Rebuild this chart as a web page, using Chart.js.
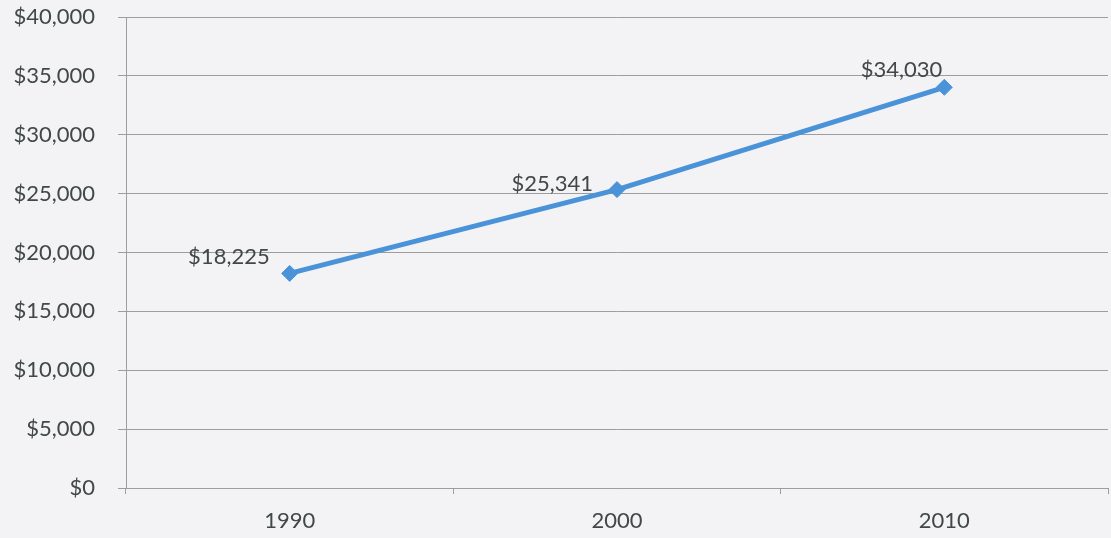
<!DOCTYPE html>
<html>
<head>
<meta charset="utf-8">
<script src="https://cdn.jsdelivr.net/npm/chart.js@4/dist/chart.umd.min.js"></script>
<style>
  body { margin: 0; background: #f3f3f5; }
  #incomeChart { display: block; }
</style>
</head>
<body>
<canvas id="incomeChart" width="1111" height="538"></canvas>
<script>
// median household income by census year
const years = ['1990', '2000', '2010']
const income = [18225, 25341, 34030]

// y axis ticks
const yMin = 0
const yMax = 40000
const yStep = 5000

// where each value label sits relative to its point (right-aligned)
const labelOffsets = [
    { dx: -20, dy: -16 },
    { dx: -24, dy: -6 },
    { dx: -2, dy: -17 }
]

const textColor = '#414846'
const gridColor = '#9d9d9d'
const lineColor = '#4b93d8'

const dollars = (v) => '$' + v.toLocaleString('en-US')

const paintBackground = {
    id: 'paintBackground',
    beforeDraw(chart) {
        const ctx = chart.ctx
        ctx.save()
        ctx.fillStyle = '#f3f3f5'
        ctx.fillRect(0, 0, chart.width, chart.height)
        ctx.restore()
    }
}

const valueLabels = {
    id: 'valueLabels',
    afterDatasetsDraw(chart) {
        const ctx = chart.ctx
        const meta = chart.getDatasetMeta(0)
        ctx.save()
        ctx.font = '22px Lato'
        ctx.fillStyle = textColor
        ctx.textAlign = 'right'
        ctx.textBaseline = 'middle'
        meta.data.forEach((pt, i) => {
            const off = labelOffsets[i]
            ctx.fillText(dollars(income[i]), pt.x + off.dx, pt.y + off.dy)
        })
        ctx.restore()
    }
}

const config = {
    type: 'line',
    data: {
        labels: years,
        datasets: [{
            data: income,
            borderColor: lineColor,
            backgroundColor: lineColor,
            borderWidth: 5,
            pointStyle: 'rectRot',
            pointRadius: 8,
            pointBorderWidth: 1,
            tension: 0
        }]
    },
    options: {
        responsive: false,
        animation: false,
        layout: {
            autoPadding: false,
            padding: { top: 17, right: 3, left: 0, bottom: 0 }
        },
        plugins: {
            legend: { display: false },
            tooltip: { enabled: false }
        },
        scales: {
            x: {
                offset: true,
                grid: {
                    offset: true,
                    drawOnChartArea: false,
                    tickLength: 6,
                    color: gridColor
                },
                border: { color: gridColor },
                ticks: {
                    padding: 14,
                    color: textColor,
                    font: { family: 'Lato', size: 22 }
                },
                afterFit(scale) {
                    scale.height = 50
                    scale.paddingLeft = 0
                    scale.paddingRight = 0
                }
            },
            y: {
                min: yMin,
                max: yMax,
                grid: { color: gridColor, tickLength: 8 },
                border: { color: gridColor },
                ticks: {
                    stepSize: yStep,
                    padding: 23,
                    color: textColor,
                    font: { family: 'Lato', size: 22 },
                    callback: (v) => dollars(v)
                },
                afterFit(scale) {
                    scale.width = 126
                    scale.paddingTop = 0
                    scale.paddingBottom = 0
                }
            }
        }
    },
    plugins: [paintBackground, valueLabels]
}

new Chart(document.getElementById('incomeChart'), config)
</script>
</body>
</html>
